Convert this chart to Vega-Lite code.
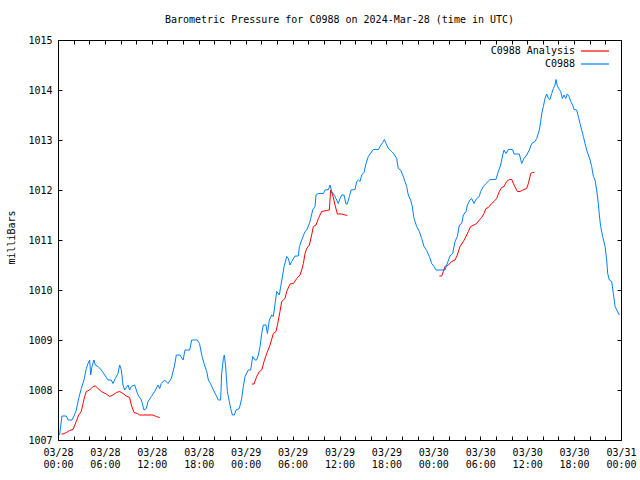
{
  "$schema": "https://vega.github.io/schema/vega-lite/v6.json",
  "width": 563,
  "height": 400,
  "autosize": {"type": "none"},
  "padding": {"left": 58, "top": 40, "right": 19, "bottom": 40},
  "background": "white",
  "title": {"text": "Barometric Pressure for C0988 on 2024-Mar-28 (time in UTC)", "font": "DejaVu Sans Mono", "fontSize": 10, "fontWeight": "normal", "color": "black", "anchor": "middle", "offset": 10},
  "config": {
    "view": {"stroke": "black", "strokeWidth": 1},
    "axis": {"domain": false, "grid": false, "tickColor": "black", "tickSize": -4, "tickWidth": 1, "labelFont": "DejaVu Sans Mono", "labelFontSize": 10, "labelColor": "black", "titleFont": "DejaVu Sans Mono", "titleFontSize": 10, "titleFontWeight": "normal", "titleColor": "black"},
    "legend": {"labelFont": "DejaVu Sans Mono", "labelFontSize": 10, "labelColor": "black"}
  },
  "data": {"values": [
    {"s":"C0988 Analysis","g":1,"h":0.45,"v":1007.12},{"s":"C0988 Analysis","g":1,"h":0.64,"v":1007.12},{"s":"C0988 Analysis","g":1,"h":1.07,"v":1007.15},{"s":"C0988 Analysis","g":1,"h":1.49,"v":1007.19},{"s":"C0988 Analysis","g":1,"h":1.92,"v":1007.21},{"s":"C0988 Analysis","g":1,"h":2.34,"v":1007.37},{"s":"C0988 Analysis","g":1,"h":2.64,"v":1007.5},{"s":"C0988 Analysis","g":1,"h":2.98,"v":1007.57},{"s":"C0988 Analysis","g":1,"h":3.2,"v":1007.73},{"s":"C0988 Analysis","g":1,"h":3.41,"v":1007.87},{"s":"C0988 Analysis","g":1,"h":3.62,"v":1007.97},{"s":"C0988 Analysis","g":1,"h":4.05,"v":1008.0},{"s":"C0988 Analysis","g":1,"h":4.48,"v":1008.07},{"s":"C0988 Analysis","g":1,"h":4.77,"v":1008.08},{"s":"C0988 Analysis","g":1,"h":5.12,"v":1008.03},{"s":"C0988 Analysis","g":1,"h":5.54,"v":1007.97},{"s":"C0988 Analysis","g":1,"h":6.18,"v":1007.92},{"s":"C0988 Analysis","g":1,"h":6.61,"v":1007.87},{"s":"C0988 Analysis","g":1,"h":7.03,"v":1007.9},{"s":"C0988 Analysis","g":1,"h":7.46,"v":1007.95},{"s":"C0988 Analysis","g":1,"h":7.89,"v":1007.97},{"s":"C0988 Analysis","g":1,"h":8.31,"v":1007.93},{"s":"C0988 Analysis","g":1,"h":8.74,"v":1007.88},{"s":"C0988 Analysis","g":1,"h":9.16,"v":1007.85},{"s":"C0988 Analysis","g":1,"h":9.38,"v":1007.7},{"s":"C0988 Analysis","g":1,"h":9.72,"v":1007.55},{"s":"C0988 Analysis","g":1,"h":10.15,"v":1007.53},{"s":"C0988 Analysis","g":1,"h":10.44,"v":1007.5},{"s":"C0988 Analysis","g":1,"h":12.15,"v":1007.5},{"s":"C0988 Analysis","g":1,"h":12.57,"v":1007.47},{"s":"C0988 Analysis","g":1,"h":13.0,"v":1007.45},
    {"s":"C0988 Analysis","g":2,"h":24.77,"v":1008.12},{"s":"C0988 Analysis","g":2,"h":25.07,"v":1008.12},{"s":"C0988 Analysis","g":2,"h":25.41,"v":1008.27},{"s":"C0988 Analysis","g":2,"h":25.75,"v":1008.37},{"s":"C0988 Analysis","g":2,"h":26.05,"v":1008.4},{"s":"C0988 Analysis","g":2,"h":26.35,"v":1008.57},{"s":"C0988 Analysis","g":2,"h":26.69,"v":1008.73},{"s":"C0988 Analysis","g":2,"h":27.12,"v":1008.9},{"s":"C0988 Analysis","g":2,"h":27.54,"v":1009.13},{"s":"C0988 Analysis","g":2,"h":27.88,"v":1009.17},{"s":"C0988 Analysis","g":2,"h":28.1,"v":1009.33},{"s":"C0988 Analysis","g":2,"h":28.39,"v":1009.57},{"s":"C0988 Analysis","g":2,"h":28.61,"v":1009.77},{"s":"C0988 Analysis","g":2,"h":29.03,"v":1009.83},{"s":"C0988 Analysis","g":2,"h":29.25,"v":1009.97},{"s":"C0988 Analysis","g":2,"h":29.67,"v":1010.12},{"s":"C0988 Analysis","g":2,"h":30.1,"v":1010.13},{"s":"C0988 Analysis","g":2,"h":30.53,"v":1010.23},{"s":"C0988 Analysis","g":2,"h":30.95,"v":1010.3},{"s":"C0988 Analysis","g":2,"h":31.17,"v":1010.4},{"s":"C0988 Analysis","g":2,"h":31.38,"v":1010.53},{"s":"C0988 Analysis","g":2,"h":31.59,"v":1010.73},{"s":"C0988 Analysis","g":2,"h":31.81,"v":1010.83},{"s":"C0988 Analysis","g":2,"h":32.15,"v":1010.9},{"s":"C0988 Analysis","g":2,"h":32.44,"v":1011.1},{"s":"C0988 Analysis","g":2,"h":32.66,"v":1011.27},{"s":"C0988 Analysis","g":2,"h":33.0,"v":1011.3},{"s":"C0988 Analysis","g":2,"h":33.3,"v":1011.43},{"s":"C0988 Analysis","g":2,"h":33.72,"v":1011.57},{"s":"C0988 Analysis","g":2,"h":34.36,"v":1011.59},{"s":"C0988 Analysis","g":2,"h":34.7,"v":1011.6},{"s":"C0988 Analysis","g":2,"h":34.87,"v":1012.0},{"s":"C0988 Analysis","g":2,"h":35.13,"v":1011.9},{"s":"C0988 Analysis","g":2,"h":35.43,"v":1011.7},{"s":"C0988 Analysis","g":2,"h":35.73,"v":1011.52},{"s":"C0988 Analysis","g":2,"h":36.28,"v":1011.52},{"s":"C0988 Analysis","g":2,"h":37.0,"v":1011.49},
    {"s":"C0988 Analysis","g":3,"h":48.77,"v":1010.28},{"s":"C0988 Analysis","g":3,"h":49.07,"v":1010.28},{"s":"C0988 Analysis","g":3,"h":49.28,"v":1010.37},{"s":"C0988 Analysis","g":3,"h":49.49,"v":1010.47},{"s":"C0988 Analysis","g":3,"h":49.92,"v":1010.5},{"s":"C0988 Analysis","g":3,"h":50.34,"v":1010.57},{"s":"C0988 Analysis","g":3,"h":50.77,"v":1010.6},{"s":"C0988 Analysis","g":3,"h":51.07,"v":1010.7},{"s":"C0988 Analysis","g":3,"h":51.41,"v":1010.87},{"s":"C0988 Analysis","g":3,"h":51.84,"v":1010.97},{"s":"C0988 Analysis","g":3,"h":52.18,"v":1011.07},{"s":"C0988 Analysis","g":3,"h":52.48,"v":1011.17},{"s":"C0988 Analysis","g":3,"h":52.77,"v":1011.27},{"s":"C0988 Analysis","g":3,"h":53.2,"v":1011.3},{"s":"C0988 Analysis","g":3,"h":53.54,"v":1011.33},{"s":"C0988 Analysis","g":3,"h":53.88,"v":1011.4},{"s":"C0988 Analysis","g":3,"h":54.18,"v":1011.45},{"s":"C0988 Analysis","g":3,"h":54.48,"v":1011.53},{"s":"C0988 Analysis","g":3,"h":54.73,"v":1011.63},{"s":"C0988 Analysis","g":3,"h":55.03,"v":1011.65},{"s":"C0988 Analysis","g":3,"h":55.46,"v":1011.73},{"s":"C0988 Analysis","g":3,"h":55.76,"v":1011.77},{"s":"C0988 Analysis","g":3,"h":56.1,"v":1011.83},{"s":"C0988 Analysis","g":3,"h":56.44,"v":1011.97},{"s":"C0988 Analysis","g":3,"h":56.74,"v":1012.05},{"s":"C0988 Analysis","g":3,"h":57.04,"v":1012.07},{"s":"C0988 Analysis","g":3,"h":57.38,"v":1012.17},{"s":"C0988 Analysis","g":3,"h":57.72,"v":1012.21},{"s":"C0988 Analysis","g":3,"h":58.02,"v":1012.21},{"s":"C0988 Analysis","g":3,"h":58.32,"v":1012.1},{"s":"C0988 Analysis","g":3,"h":58.75,"v":1011.97},{"s":"C0988 Analysis","g":3,"h":59.09,"v":1011.97},{"s":"C0988 Analysis","g":3,"h":59.43,"v":1012.0},{"s":"C0988 Analysis","g":3,"h":59.94,"v":1012.03},{"s":"C0988 Analysis","g":3,"h":60.15,"v":1012.13},{"s":"C0988 Analysis","g":3,"h":60.45,"v":1012.33},{"s":"C0988 Analysis","g":3,"h":60.66,"v":1012.35},{"s":"C0988 Analysis","g":3,"h":60.92,"v":1012.35},
    {"s":"C0988","g":0,"h":0.2,"v":1007.1},{"s":"C0988","g":0,"h":0.5,"v":1007.48},{"s":"C0988","g":0,"h":1.07,"v":1007.48},{"s":"C0988","g":0,"h":1.28,"v":1007.4},{"s":"C0988","g":0,"h":1.79,"v":1007.4},{"s":"C0988","g":0,"h":2.05,"v":1007.48},{"s":"C0988","g":0,"h":2.34,"v":1007.6},{"s":"C0988","g":0,"h":2.64,"v":1007.83},{"s":"C0988","g":0,"h":2.98,"v":1008.03},{"s":"C0988","g":0,"h":3.32,"v":1008.2},{"s":"C0988","g":0,"h":3.62,"v":1008.43},{"s":"C0988","g":0,"h":3.84,"v":1008.53},{"s":"C0988","g":0,"h":4.05,"v":1008.6},{"s":"C0988","g":0,"h":4.18,"v":1008.3},{"s":"C0988","g":0,"h":4.35,"v":1008.47},{"s":"C0988","g":0,"h":4.6,"v":1008.6},{"s":"C0988","g":0,"h":4.77,"v":1008.5},{"s":"C0988","g":0,"h":5.12,"v":1008.47},{"s":"C0988","g":0,"h":5.54,"v":1008.4},{"s":"C0988","g":0,"h":5.97,"v":1008.3},{"s":"C0988","g":0,"h":6.39,"v":1008.2},{"s":"C0988","g":0,"h":6.82,"v":1008.2},{"s":"C0988","g":0,"h":7.03,"v":1008.13},{"s":"C0988","g":0,"h":7.33,"v":1008.23},{"s":"C0988","g":0,"h":7.67,"v":1008.33},{"s":"C0988","g":0,"h":7.89,"v":1008.5},{"s":"C0988","g":0,"h":8.1,"v":1008.4},{"s":"C0988","g":0,"h":8.31,"v":1008.1},{"s":"C0988","g":0,"h":8.53,"v":1008.0},{"s":"C0988","g":0,"h":8.95,"v":1008.1},{"s":"C0988","g":0,"h":9.16,"v":1008.0},{"s":"C0988","g":0,"h":9.38,"v":1008.07},{"s":"C0988","g":0,"h":9.8,"v":1008.1},{"s":"C0988","g":0,"h":10.23,"v":1007.9},{"s":"C0988","g":0,"h":10.66,"v":1007.8},{"s":"C0988","g":0,"h":11.0,"v":1007.6},{"s":"C0988","g":0,"h":11.3,"v":1007.63},{"s":"C0988","g":0,"h":11.51,"v":1007.77},{"s":"C0988","g":0,"h":11.94,"v":1007.87},{"s":"C0988","g":0,"h":12.36,"v":1007.97},{"s":"C0988","g":0,"h":12.79,"v":1008.1},{"s":"C0988","g":0,"h":13.0,"v":1008.03},{"s":"C0988","g":0,"h":13.21,"v":1008.13},{"s":"C0988","g":0,"h":13.64,"v":1008.2},{"s":"C0988","g":0,"h":14.07,"v":1008.13},{"s":"C0988","g":0,"h":14.49,"v":1008.23},{"s":"C0988","g":0,"h":14.92,"v":1008.5},{"s":"C0988","g":0,"h":15.13,"v":1008.7},{"s":"C0988","g":0,"h":15.6,"v":1008.7},{"s":"C0988","g":0,"h":16.0,"v":1008.6},{"s":"C0988","g":0,"h":16.24,"v":1008.8},{"s":"C0988","g":0,"h":16.84,"v":1008.8},{"s":"C0988","g":0,"h":17.1,"v":1009.0},{"s":"C0988","g":0,"h":17.82,"v":1009.0},{"s":"C0988","g":0,"h":18.1,"v":1008.93},{"s":"C0988","g":0,"h":18.38,"v":1008.7},{"s":"C0988","g":0,"h":18.67,"v":1008.53},{"s":"C0988","g":0,"h":19.02,"v":1008.37},{"s":"C0988","g":0,"h":19.23,"v":1008.2},{"s":"C0988","g":0,"h":19.5,"v":1008.13},{"s":"C0988","g":0,"h":19.87,"v":1008.0},{"s":"C0988","g":0,"h":20.2,"v":1007.9},{"s":"C0988","g":0,"h":20.5,"v":1007.8},{"s":"C0988","g":0,"h":20.8,"v":1007.8},{"s":"C0988","g":0,"h":20.93,"v":1008.33},{"s":"C0988","g":0,"h":21.15,"v":1008.63},{"s":"C0988","g":0,"h":21.27,"v":1008.7},{"s":"C0988","g":0,"h":21.44,"v":1008.47},{"s":"C0988","g":0,"h":21.66,"v":1007.97},{"s":"C0988","g":0,"h":21.91,"v":1007.77},{"s":"C0988","g":0,"h":22.08,"v":1007.63},{"s":"C0988","g":0,"h":22.3,"v":1007.5},{"s":"C0988","g":0,"h":22.55,"v":1007.5},{"s":"C0988","g":0,"h":22.77,"v":1007.6},{"s":"C0988","g":0,"h":23.19,"v":1007.63},{"s":"C0988","g":0,"h":23.49,"v":1007.83},{"s":"C0988","g":0,"h":23.7,"v":1008.07},{"s":"C0988","g":0,"h":23.92,"v":1008.27},{"s":"C0988","g":0,"h":24.34,"v":1008.4},{"s":"C0988","g":0,"h":24.64,"v":1008.4},{"s":"C0988","g":0,"h":24.9,"v":1008.67},{"s":"C0988","g":0,"h":25.2,"v":1008.6},{"s":"C0988","g":0,"h":25.4,"v":1008.6},{"s":"C0988","g":0,"h":25.62,"v":1008.7},{"s":"C0988","g":0,"h":25.84,"v":1008.87},{"s":"C0988","g":0,"h":26.05,"v":1009.13},{"s":"C0988","g":0,"h":26.26,"v":1009.3},{"s":"C0988","g":0,"h":26.6,"v":1009.3},{"s":"C0988","g":0,"h":26.78,"v":1009.13},{"s":"C0988","g":0,"h":27.03,"v":1009.4},{"s":"C0988","g":0,"h":27.33,"v":1009.5},{"s":"C0988","g":0,"h":27.54,"v":1009.47},{"s":"C0988","g":0,"h":27.76,"v":1009.73},{"s":"C0988","g":0,"h":27.97,"v":1009.97},{"s":"C0988","g":0,"h":28.31,"v":1009.9},{"s":"C0988","g":0,"h":28.48,"v":1010.07},{"s":"C0988","g":0,"h":28.74,"v":1010.3},{"s":"C0988","g":0,"h":28.91,"v":1010.47},{"s":"C0988","g":0,"h":29.25,"v":1010.67},{"s":"C0988","g":0,"h":29.46,"v":1010.63},{"s":"C0988","g":0,"h":29.67,"v":1010.5},{"s":"C0988","g":0,"h":29.89,"v":1010.57},{"s":"C0988","g":0,"h":30.31,"v":1010.68},{"s":"C0988","g":0,"h":30.74,"v":1010.68},{"s":"C0988","g":0,"h":30.87,"v":1010.87},{"s":"C0988","g":0,"h":31.17,"v":1011.0},{"s":"C0988","g":0,"h":31.59,"v":1011.17},{"s":"C0988","g":0,"h":31.81,"v":1011.2},{"s":"C0988","g":0,"h":32.15,"v":1011.33},{"s":"C0988","g":0,"h":32.32,"v":1011.43},{"s":"C0988","g":0,"h":32.57,"v":1011.6},{"s":"C0988","g":0,"h":32.87,"v":1011.67},{"s":"C0988","g":0,"h":33.0,"v":1011.9},{"s":"C0988","g":0,"h":33.3,"v":1011.93},{"s":"C0988","g":0,"h":33.94,"v":1011.93},{"s":"C0988","g":0,"h":34.15,"v":1012.0},{"s":"C0988","g":0,"h":34.58,"v":1012.01},{"s":"C0988","g":0,"h":34.79,"v":1012.1},{"s":"C0988","g":0,"h":35.0,"v":1011.97},{"s":"C0988","g":0,"h":35.43,"v":1011.87},{"s":"C0988","g":0,"h":35.64,"v":1011.8},{"s":"C0988","g":0,"h":35.85,"v":1011.73},{"s":"C0988","g":0,"h":36.07,"v":1011.83},{"s":"C0988","g":0,"h":36.28,"v":1011.9},{"s":"C0988","g":0,"h":36.58,"v":1011.9},{"s":"C0988","g":0,"h":36.83,"v":1011.72},{"s":"C0988","g":0,"h":37.0,"v":1011.72},{"s":"C0988","g":0,"h":37.26,"v":1011.87},{"s":"C0988","g":0,"h":37.47,"v":1012.0},{"s":"C0988","g":0,"h":37.99,"v":1012.01},{"s":"C0988","g":0,"h":38.2,"v":1012.17},{"s":"C0988","g":0,"h":38.41,"v":1012.2},{"s":"C0988","g":0,"h":38.63,"v":1012.17},{"s":"C0988","g":0,"h":38.84,"v":1012.3},{"s":"C0988","g":0,"h":39.14,"v":1012.35},{"s":"C0988","g":0,"h":39.39,"v":1012.53},{"s":"C0988","g":0,"h":39.69,"v":1012.67},{"s":"C0988","g":0,"h":39.9,"v":1012.72},{"s":"C0988","g":0,"h":40.33,"v":1012.81},{"s":"C0988","g":0,"h":40.97,"v":1012.81},{"s":"C0988","g":0,"h":41.18,"v":1012.87},{"s":"C0988","g":0,"h":41.52,"v":1012.95},{"s":"C0988","g":0,"h":41.74,"v":1013.01},{"s":"C0988","g":0,"h":41.95,"v":1012.93},{"s":"C0988","g":0,"h":42.25,"v":1012.83},{"s":"C0988","g":0,"h":42.67,"v":1012.77},{"s":"C0988","g":0,"h":42.97,"v":1012.72},{"s":"C0988","g":0,"h":43.31,"v":1012.63},{"s":"C0988","g":0,"h":43.52,"v":1012.43},{"s":"C0988","g":0,"h":43.82,"v":1012.4},{"s":"C0988","g":0,"h":44.08,"v":1012.3},{"s":"C0988","g":0,"h":44.38,"v":1012.17},{"s":"C0988","g":0,"h":44.59,"v":1012.07},{"s":"C0988","g":0,"h":44.8,"v":1011.9},{"s":"C0988","g":0,"h":45.1,"v":1011.8},{"s":"C0988","g":0,"h":45.31,"v":1011.67},{"s":"C0988","g":0,"h":45.53,"v":1011.43},{"s":"C0988","g":0,"h":45.87,"v":1011.27},{"s":"C0988","g":0,"h":46.21,"v":1011.17},{"s":"C0988","g":0,"h":46.51,"v":1011.03},{"s":"C0988","g":0,"h":46.81,"v":1010.87},{"s":"C0988","g":0,"h":47.15,"v":1010.79},{"s":"C0988","g":0,"h":47.49,"v":1010.67},{"s":"C0988","g":0,"h":47.79,"v":1010.53},{"s":"C0988","g":0,"h":48.09,"v":1010.47},{"s":"C0988","g":0,"h":48.34,"v":1010.4},{"s":"C0988","g":0,"h":49.49,"v":1010.4},{"s":"C0988","g":0,"h":49.71,"v":1010.5},{"s":"C0988","g":0,"h":50.13,"v":1010.68},{"s":"C0988","g":0,"h":50.47,"v":1010.73},{"s":"C0988","g":0,"h":50.77,"v":1010.97},{"s":"C0988","g":0,"h":51.07,"v":1011.07},{"s":"C0988","g":0,"h":51.33,"v":1011.3},{"s":"C0988","g":0,"h":51.62,"v":1011.33},{"s":"C0988","g":0,"h":51.84,"v":1011.5},{"s":"C0988","g":0,"h":52.18,"v":1011.57},{"s":"C0988","g":0,"h":52.35,"v":1011.7},{"s":"C0988","g":0,"h":52.69,"v":1011.8},{"s":"C0988","g":0,"h":52.9,"v":1011.83},{"s":"C0988","g":0,"h":53.2,"v":1011.73},{"s":"C0988","g":0,"h":53.54,"v":1011.83},{"s":"C0988","g":0,"h":53.88,"v":1011.87},{"s":"C0988","g":0,"h":54.05,"v":1011.97},{"s":"C0988","g":0,"h":54.39,"v":1012.07},{"s":"C0988","g":0,"h":54.73,"v":1012.13},{"s":"C0988","g":0,"h":55.25,"v":1012.21},{"s":"C0988","g":0,"h":56.01,"v":1012.21},{"s":"C0988","g":0,"h":56.31,"v":1012.37},{"s":"C0988","g":0,"h":56.61,"v":1012.5},{"s":"C0988","g":0,"h":56.87,"v":1012.7},{"s":"C0988","g":0,"h":57.04,"v":1012.8},{"s":"C0988","g":0,"h":57.29,"v":1012.73},{"s":"C0988","g":0,"h":57.59,"v":1012.81},{"s":"C0988","g":0,"h":58.14,"v":1012.81},{"s":"C0988","g":0,"h":58.32,"v":1012.72},{"s":"C0988","g":0,"h":59.0,"v":1012.72},{"s":"C0988","g":0,"h":59.3,"v":1012.53},{"s":"C0988","g":0,"h":59.59,"v":1012.63},{"s":"C0988","g":0,"h":59.94,"v":1012.7},{"s":"C0988","g":0,"h":60.28,"v":1012.8},{"s":"C0988","g":0,"h":60.58,"v":1012.93},{"s":"C0988","g":0,"h":61.0,"v":1012.97},{"s":"C0988","g":0,"h":61.22,"v":1013.03},{"s":"C0988","g":0,"h":61.56,"v":1013.2},{"s":"C0988","g":0,"h":61.73,"v":1013.37},{"s":"C0988","g":0,"h":61.86,"v":1013.53},{"s":"C0988","g":0,"h":62.07,"v":1013.67},{"s":"C0988","g":0,"h":62.28,"v":1013.83},{"s":"C0988","g":0,"h":62.5,"v":1013.92},{"s":"C0988","g":0,"h":62.71,"v":1013.83},{"s":"C0988","g":0,"h":62.92,"v":1013.81},{"s":"C0988","g":0,"h":63.14,"v":1013.93},{"s":"C0988","g":0,"h":63.35,"v":1014.03},{"s":"C0988","g":0,"h":63.56,"v":1014.1},{"s":"C0988","g":0,"h":63.69,"v":1014.21},{"s":"C0988","g":0,"h":63.86,"v":1014.08},{"s":"C0988","g":0,"h":64.12,"v":1014.01},{"s":"C0988","g":0,"h":64.29,"v":1013.97},{"s":"C0988","g":0,"h":64.5,"v":1013.83},{"s":"C0988","g":0,"h":64.71,"v":1013.9},{"s":"C0988","g":0,"h":64.93,"v":1013.83},{"s":"C0988","g":0,"h":65.14,"v":1013.92},{"s":"C0988","g":0,"h":65.35,"v":1013.87},{"s":"C0988","g":0,"h":65.57,"v":1013.77},{"s":"C0988","g":0,"h":65.82,"v":1013.7},{"s":"C0988","g":0,"h":65.99,"v":1013.61},{"s":"C0988","g":0,"h":66.33,"v":1013.6},{"s":"C0988","g":0,"h":66.55,"v":1013.47},{"s":"C0988","g":0,"h":66.76,"v":1013.33},{"s":"C0988","g":0,"h":66.97,"v":1013.2},{"s":"C0988","g":0,"h":67.19,"v":1013.07},{"s":"C0988","g":0,"h":67.4,"v":1012.93},{"s":"C0988","g":0,"h":67.61,"v":1012.8},{"s":"C0988","g":0,"h":67.83,"v":1012.7},{"s":"C0988","g":0,"h":68.04,"v":1012.6},{"s":"C0988","g":0,"h":68.25,"v":1012.47},{"s":"C0988","g":0,"h":68.47,"v":1012.27},{"s":"C0988","g":0,"h":68.68,"v":1012.2},{"s":"C0988","g":0,"h":68.89,"v":1012.0},{"s":"C0988","g":0,"h":69.1,"v":1011.73},{"s":"C0988","g":0,"h":69.23,"v":1011.5},{"s":"C0988","g":0,"h":69.4,"v":1011.27},{"s":"C0988","g":0,"h":69.66,"v":1011.07},{"s":"C0988","g":0,"h":69.96,"v":1010.87},{"s":"C0988","g":0,"h":70.17,"v":1010.6},{"s":"C0988","g":0,"h":70.3,"v":1010.33},{"s":"C0988","g":0,"h":70.51,"v":1010.2},{"s":"C0988","g":0,"h":70.81,"v":1010.17},{"s":"C0988","g":0,"h":71.02,"v":1009.93},{"s":"C0988","g":0,"h":71.24,"v":1009.67},{"s":"C0988","g":0,"h":71.53,"v":1009.58},{"s":"C0988","g":0,"h":71.79,"v":1009.5}
  ]},
  "layer": [
    {
      "mark": {"type": "line", "strokeWidth": 1, "interpolate": "linear"},
      "encoding": {
        "x": {"field": "h", "type": "quantitative", "scale": {"domain": [0, 72], "nice": false, "zero": false},
          "axis": {"orient": "bottom", "title": null, "values": [0,2,4,6,8,10,12,14,16,18,20,22,24,26,28,30,32,34,36,38,40,42,44,46,48,50,52,54,56,58,60,62,64,66,68,70,72], "labelOverlap": false, "labelPadding": 11, "labelLineHeight": 12, "labelBaseline": "top", "labelFlush": false,
            "labelExpr": "datum.value % 6 == 0 ? ['03/' + (28 + floor(datum.value / 24)), (datum.value % 24 < 10 ? '0' : '') + (datum.value % 24) + ':00'] : ''"}},
        "y": {"field": "v", "type": "quantitative", "scale": {"domain": [1007, 1015], "nice": false, "zero": false},
          "axis": {"orient": "left", "title": "milliBars", "values": [1007,1008,1009,1010,1011,1012,1013,1014,1015], "format": "d", "labelPadding": 10, "labelFlush": false, "titleX": -47, "titleY": 197, "titleAngle": -90, "titleAlign": "center", "titleBaseline": "middle"}},
        "color": {"field": "s", "type": "nominal", "scale": {"domain": ["C0988 Analysis", "C0988"], "range": ["#ff0000", "#0080ff"]},
          "legend": {"title": null, "orient": "none", "legendX": 531, "legendY": 5, "padding": 0, "symbolType": "M-2.8,0H2.8", "symbolSize": 100, "symbolStrokeWidth": 1.2, "symbolOpacity": 1, "labelAlign": "right", "labelOffset": -26, "rowPadding": 2}},
        "detail": {"field": "g", "type": "nominal"}
      }
    },
    {
      "mark": {"type": "point", "size": 0, "opacity": 0},
      "encoding": {
        "x": {"field": "h", "type": "quantitative", "axis": {"orient": "top", "title": null, "labels": false, "values": [0,2,4,6,8,10,12,14,16,18,20,22,24,26,28,30,32,34,36,38,40,42,44,46,48,50,52,54,56,58,60,62,64,66,68,70,72]}},
        "y": {"field": "v", "type": "quantitative", "axis": {"orient": "right", "title": null, "labels": false, "values": [1007,1008,1009,1010,1011,1012,1013,1014,1015]}}
      }
    }
  ],
  "resolve": {"axis": {"x": "independent", "y": "independent"}}
}
